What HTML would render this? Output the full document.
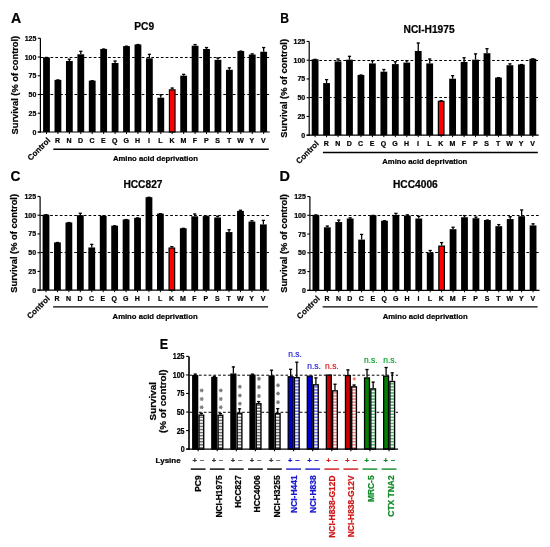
<!DOCTYPE html>
<html><head><meta charset="utf-8"><style>
html,body{margin:0;padding:0;background:#fff;}
svg{display:block;will-change:transform;}
text{font-family:"Liberation Sans", sans-serif;stroke-width:0.22px;} text:not([stroke]){stroke:#000;}
</style></head><body>
<svg width="550" height="547" viewBox="0 0 550 547" font-family='"Liberation Sans", sans-serif'>
<defs><pattern id="hk" patternUnits="userSpaceOnUse" x="0" y="0.3" width="10" height="3.05"><rect width="10" height="3.05" fill="#fff"/><rect y="1.4" width="10" height="1.65" fill="#707070"/></pattern><pattern id="hb" patternUnits="userSpaceOnUse" x="0" y="0.3" width="10" height="3.05"><rect width="10" height="3.05" fill="#fff"/><rect y="1.4" width="10" height="1.65" fill="#7878f4"/></pattern><pattern id="hr" patternUnits="userSpaceOnUse" x="0" y="0.3" width="10" height="3.05"><rect width="10" height="3.05" fill="#fff"/><rect y="1.4" width="10" height="1.65" fill="#f48888"/></pattern><pattern id="hg" patternUnits="userSpaceOnUse" x="0" y="0.3" width="10" height="3.05"><rect width="10" height="3.05" fill="#fff"/><rect y="1.4" width="10" height="1.65" fill="#58b878"/></pattern></defs>
<rect width="550" height="547" fill="#fff"/>
<text transform="translate(10.9,22.7) scale(0.93,1)" font-size="15.2" font-weight="bold">A</text>
<text x="134.3" y="29.9" font-size="10.2" font-weight="bold">PC9</text>
<text transform="translate(17.8,85.12) rotate(-90)" text-anchor="middle" font-size="9.3" font-weight="bold">Survival (% of control)</text>
<line x1="40.9" x2="269.8" y1="57.5" y2="57.5" stroke="#000" stroke-width="1" stroke-dasharray="2.7,2.1"/>
<line x1="40.9" x2="269.8" y1="94.5" y2="94.5" stroke="#000" stroke-width="1" stroke-dasharray="2.7,2.1"/>
<line x1="46.5" x2="46.5" y1="57.38" y2="57.15" stroke="#000" stroke-width="1.3"/>
<line x1="44.9" x2="48.1" y1="57.45" y2="57.45" stroke="#000" stroke-width="1.3"/>
<rect x="43.1" y="57.38" width="6.8" height="74.62" fill="#000"/>
<line x1="46.5" x2="46.5" y1="132" y2="134" stroke="#000" stroke-width="1"/>
<text transform="translate(50.8,141) rotate(-45)" text-anchor="end" font-size="8" font-weight="bold">Control</text>
<line x1="57.93" x2="57.93" y1="79.88" y2="79.65" stroke="#000" stroke-width="1.3"/>
<line x1="56.33" x2="59.53" y1="79.95" y2="79.95" stroke="#000" stroke-width="1.3"/>
<rect x="54.53" y="79.88" width="6.8" height="52.12" fill="#000"/>
<line x1="57.93" x2="57.93" y1="132" y2="134" stroke="#000" stroke-width="1"/>
<text x="57.63" y="143.1" text-anchor="middle" font-size="7" font-weight="bold">R</text>
<line x1="69.36" x2="69.36" y1="60.97" y2="58.95" stroke="#000" stroke-width="1.3"/>
<line x1="67.76" x2="70.96" y1="59.25" y2="59.25" stroke="#000" stroke-width="1.3"/>
<rect x="65.96" y="60.97" width="6.8" height="71.03" fill="#000"/>
<line x1="69.36" x2="69.36" y1="132" y2="134" stroke="#000" stroke-width="1"/>
<text x="69.06" y="143.1" text-anchor="middle" font-size="7" font-weight="bold">N</text>
<line x1="80.79" x2="80.79" y1="54.3" y2="51" stroke="#000" stroke-width="1.3"/>
<line x1="79.19" x2="82.39" y1="51.3" y2="51.3" stroke="#000" stroke-width="1.3"/>
<rect x="77.39" y="54.3" width="6.8" height="77.7" fill="#000"/>
<line x1="80.79" x2="80.79" y1="132" y2="134" stroke="#000" stroke-width="1"/>
<text x="80.49" y="143.1" text-anchor="middle" font-size="7" font-weight="bold">D</text>
<line x1="92.22" x2="92.22" y1="80.62" y2="80.4" stroke="#000" stroke-width="1.3"/>
<line x1="90.62" x2="93.82" y1="80.7" y2="80.7" stroke="#000" stroke-width="1.3"/>
<rect x="88.82" y="80.62" width="6.8" height="51.38" fill="#000"/>
<line x1="92.22" x2="92.22" y1="132" y2="134" stroke="#000" stroke-width="1"/>
<text x="91.92" y="143.1" text-anchor="middle" font-size="7" font-weight="bold">C</text>
<line x1="103.65" x2="103.65" y1="48.97" y2="48.75" stroke="#000" stroke-width="1.3"/>
<line x1="102.05" x2="105.25" y1="49.05" y2="49.05" stroke="#000" stroke-width="1.3"/>
<rect x="100.25" y="48.97" width="6.8" height="83.03" fill="#000"/>
<line x1="103.65" x2="103.65" y1="132" y2="134" stroke="#000" stroke-width="1"/>
<text x="103.35" y="143.1" text-anchor="middle" font-size="7" font-weight="bold">E</text>
<line x1="115.08" x2="115.08" y1="63" y2="60.75" stroke="#000" stroke-width="1.3"/>
<line x1="113.48" x2="116.68" y1="61.05" y2="61.05" stroke="#000" stroke-width="1.3"/>
<rect x="111.68" y="63" width="6.8" height="69" fill="#000"/>
<line x1="115.08" x2="115.08" y1="132" y2="134" stroke="#000" stroke-width="1"/>
<text x="114.78" y="143.1" text-anchor="middle" font-size="7" font-weight="bold">Q</text>
<line x1="126.51" x2="126.51" y1="46.12" y2="45.9" stroke="#000" stroke-width="1.3"/>
<line x1="124.91" x2="128.11" y1="46.2" y2="46.2" stroke="#000" stroke-width="1.3"/>
<rect x="123.11" y="46.12" width="6.8" height="85.88" fill="#000"/>
<line x1="126.51" x2="126.51" y1="132" y2="134" stroke="#000" stroke-width="1"/>
<text x="126.21" y="143.1" text-anchor="middle" font-size="7" font-weight="bold">G</text>
<line x1="137.94" x2="137.94" y1="44.47" y2="44.25" stroke="#000" stroke-width="1.3"/>
<line x1="136.34" x2="139.54" y1="44.55" y2="44.55" stroke="#000" stroke-width="1.3"/>
<rect x="134.54" y="44.47" width="6.8" height="87.53" fill="#000"/>
<line x1="137.94" x2="137.94" y1="132" y2="134" stroke="#000" stroke-width="1"/>
<text x="137.64" y="143.1" text-anchor="middle" font-size="7" font-weight="bold">H</text>
<line x1="149.37" x2="149.37" y1="58.35" y2="54" stroke="#000" stroke-width="1.3"/>
<line x1="147.77" x2="150.97" y1="54.3" y2="54.3" stroke="#000" stroke-width="1.3"/>
<rect x="145.97" y="58.35" width="6.8" height="73.65" fill="#000"/>
<line x1="149.37" x2="149.37" y1="132" y2="134" stroke="#000" stroke-width="1"/>
<text x="149.07" y="143.1" text-anchor="middle" font-size="7" font-weight="bold">I</text>
<line x1="160.8" x2="160.8" y1="97.72" y2="94.5" stroke="#000" stroke-width="1.3"/>
<line x1="159.2" x2="162.4" y1="94.8" y2="94.8" stroke="#000" stroke-width="1.3"/>
<rect x="157.4" y="97.72" width="6.8" height="34.28" fill="#000"/>
<line x1="160.8" x2="160.8" y1="132" y2="134" stroke="#000" stroke-width="1"/>
<text x="160.5" y="143.1" text-anchor="middle" font-size="7" font-weight="bold">L</text>
<line x1="172.23" x2="172.23" y1="89.25" y2="87.75" stroke="#000" stroke-width="1.3"/>
<line x1="170.63" x2="173.83" y1="88.05" y2="88.05" stroke="#000" stroke-width="1.3"/>
<rect x="169.43" y="89.85" width="5.6" height="42.15" fill="#ff0000" stroke="#000" stroke-width="1.2"/>
<line x1="172.23" x2="172.23" y1="132" y2="134" stroke="#000" stroke-width="1"/>
<text x="171.93" y="143.1" text-anchor="middle" font-size="7" font-weight="bold">K</text>
<line x1="183.66" x2="183.66" y1="75.68" y2="74.03" stroke="#000" stroke-width="1.3"/>
<line x1="182.06" x2="185.26" y1="74.33" y2="74.33" stroke="#000" stroke-width="1.3"/>
<rect x="180.26" y="75.68" width="6.8" height="56.32" fill="#000"/>
<line x1="183.66" x2="183.66" y1="132" y2="134" stroke="#000" stroke-width="1"/>
<text x="183.36" y="143.1" text-anchor="middle" font-size="7" font-weight="bold">M</text>
<line x1="195.09" x2="195.09" y1="45.75" y2="44.25" stroke="#000" stroke-width="1.3"/>
<line x1="193.49" x2="196.69" y1="44.55" y2="44.55" stroke="#000" stroke-width="1.3"/>
<rect x="191.69" y="45.75" width="6.8" height="86.25" fill="#000"/>
<line x1="195.09" x2="195.09" y1="132" y2="134" stroke="#000" stroke-width="1"/>
<text x="194.79" y="143.1" text-anchor="middle" font-size="7" font-weight="bold">F</text>
<line x1="206.52" x2="206.52" y1="48.97" y2="47.25" stroke="#000" stroke-width="1.3"/>
<line x1="204.92" x2="208.12" y1="47.55" y2="47.55" stroke="#000" stroke-width="1.3"/>
<rect x="203.12" y="48.97" width="6.8" height="83.03" fill="#000"/>
<line x1="206.52" x2="206.52" y1="132" y2="134" stroke="#000" stroke-width="1"/>
<text x="206.22" y="143.1" text-anchor="middle" font-size="7" font-weight="bold">P</text>
<line x1="217.95" x2="217.95" y1="59.85" y2="57.75" stroke="#000" stroke-width="1.3"/>
<line x1="216.35" x2="219.55" y1="58.05" y2="58.05" stroke="#000" stroke-width="1.3"/>
<rect x="214.55" y="59.85" width="6.8" height="72.15" fill="#000"/>
<line x1="217.95" x2="217.95" y1="132" y2="134" stroke="#000" stroke-width="1"/>
<text x="217.65" y="143.1" text-anchor="middle" font-size="7" font-weight="bold">S</text>
<line x1="229.38" x2="229.38" y1="69.75" y2="67.5" stroke="#000" stroke-width="1.3"/>
<line x1="227.78" x2="230.98" y1="67.8" y2="67.8" stroke="#000" stroke-width="1.3"/>
<rect x="225.98" y="69.75" width="6.8" height="62.25" fill="#000"/>
<line x1="229.38" x2="229.38" y1="132" y2="134" stroke="#000" stroke-width="1"/>
<text x="229.08" y="143.1" text-anchor="middle" font-size="7" font-weight="bold">T</text>
<line x1="240.81" x2="240.81" y1="51.07" y2="50.85" stroke="#000" stroke-width="1.3"/>
<line x1="239.21" x2="242.41" y1="51.15" y2="51.15" stroke="#000" stroke-width="1.3"/>
<rect x="237.41" y="51.07" width="6.8" height="80.93" fill="#000"/>
<line x1="240.81" x2="240.81" y1="132" y2="134" stroke="#000" stroke-width="1"/>
<text x="240.51" y="143.1" text-anchor="middle" font-size="7" font-weight="bold">W</text>
<line x1="252.24" x2="252.24" y1="54.53" y2="53.62" stroke="#000" stroke-width="1.3"/>
<line x1="250.64" x2="253.84" y1="53.92" y2="53.92" stroke="#000" stroke-width="1.3"/>
<rect x="248.84" y="54.53" width="6.8" height="77.47" fill="#000"/>
<line x1="252.24" x2="252.24" y1="132" y2="134" stroke="#000" stroke-width="1"/>
<text x="251.94" y="143.1" text-anchor="middle" font-size="7" font-weight="bold">Y</text>
<line x1="263.67" x2="263.67" y1="51.75" y2="47.25" stroke="#000" stroke-width="1.3"/>
<line x1="262.07" x2="265.27" y1="47.55" y2="47.55" stroke="#000" stroke-width="1.3"/>
<rect x="260.27" y="51.75" width="6.8" height="80.25" fill="#000"/>
<line x1="263.67" x2="263.67" y1="132" y2="134" stroke="#000" stroke-width="1"/>
<text x="263.37" y="143.1" text-anchor="middle" font-size="7" font-weight="bold">V</text>
<line x1="40.4" x2="40.4" y1="38.25" y2="132.6" stroke="#000" stroke-width="1.2"/>
<line x1="37.8" x2="269.8" y1="132" y2="132" stroke="#000" stroke-width="1.2"/>
<line x1="37.8" x2="40.4" y1="132" y2="132" stroke="#000" stroke-width="1.1"/>
<text x="36.4" y="134.5" text-anchor="end" font-size="7" font-weight="bold">0</text>
<line x1="37.8" x2="40.4" y1="113.25" y2="113.25" stroke="#000" stroke-width="1.1"/>
<text x="36.4" y="115.75" text-anchor="end" font-size="7" font-weight="bold">25</text>
<line x1="37.8" x2="40.4" y1="94.5" y2="94.5" stroke="#000" stroke-width="1.1"/>
<text x="36.4" y="97" text-anchor="end" font-size="7" font-weight="bold">50</text>
<line x1="37.8" x2="40.4" y1="75.75" y2="75.75" stroke="#000" stroke-width="1.1"/>
<text x="36.4" y="78.25" text-anchor="end" font-size="7" font-weight="bold">75</text>
<line x1="37.8" x2="40.4" y1="57" y2="57" stroke="#000" stroke-width="1.1"/>
<text x="36.4" y="59.5" text-anchor="end" font-size="7" font-weight="bold">100</text>
<line x1="37.8" x2="40.4" y1="38.25" y2="38.25" stroke="#000" stroke-width="1.1"/>
<text x="36.4" y="40.75" text-anchor="end" font-size="7" font-weight="bold">125</text>
<line x1="53.3" x2="268.8" y1="149.2" y2="149.2" stroke="#000" stroke-width="1.4"/>
<text x="112.9" y="160.8" font-size="7.7" font-weight="bold">Amino acid deprivation</text>
<text transform="translate(280.2,22.7) scale(0.8,1)" font-size="15.2" font-weight="bold">B</text>
<text x="403.6" y="32.8" font-size="10.2" font-weight="bold">NCI-H1975</text>
<text transform="translate(286.8,88.32) rotate(-90)" text-anchor="middle" font-size="9.3" font-weight="bold">Survival (% of control)</text>
<line x1="309.7" x2="538.7" y1="60.5" y2="60.5" stroke="#000" stroke-width="1" stroke-dasharray="2.7,2.1"/>
<line x1="309.7" x2="538.7" y1="97.5" y2="97.5" stroke="#000" stroke-width="1" stroke-dasharray="2.7,2.1"/>
<line x1="315.1" x2="315.1" y1="59.3" y2="59.07" stroke="#000" stroke-width="1.3"/>
<line x1="313.5" x2="316.7" y1="59.37" y2="59.37" stroke="#000" stroke-width="1.3"/>
<rect x="311.7" y="59.3" width="6.8" height="75.9" fill="#000"/>
<line x1="315.1" x2="315.1" y1="135.2" y2="137.2" stroke="#000" stroke-width="1"/>
<text transform="translate(319.4,144.2) rotate(-45)" text-anchor="end" font-size="8" font-weight="bold">Control</text>
<line x1="326.56" x2="326.56" y1="83.07" y2="79.32" stroke="#000" stroke-width="1.3"/>
<line x1="324.96" x2="328.16" y1="79.62" y2="79.62" stroke="#000" stroke-width="1.3"/>
<rect x="323.16" y="83.07" width="6.8" height="52.12" fill="#000"/>
<line x1="326.56" x2="326.56" y1="135.2" y2="137.2" stroke="#000" stroke-width="1"/>
<text x="326.26" y="146.3" text-anchor="middle" font-size="7" font-weight="bold">R</text>
<line x1="338.02" x2="338.02" y1="61.47" y2="58.7" stroke="#000" stroke-width="1.3"/>
<line x1="336.42" x2="339.62" y1="59" y2="59" stroke="#000" stroke-width="1.3"/>
<rect x="334.62" y="61.47" width="6.8" height="73.72" fill="#000"/>
<line x1="338.02" x2="338.02" y1="135.2" y2="137.2" stroke="#000" stroke-width="1"/>
<text x="337.72" y="146.3" text-anchor="middle" font-size="7" font-weight="bold">N</text>
<line x1="349.48" x2="349.48" y1="59.67" y2="56" stroke="#000" stroke-width="1.3"/>
<line x1="347.88" x2="351.08" y1="56.3" y2="56.3" stroke="#000" stroke-width="1.3"/>
<rect x="346.08" y="59.67" width="6.8" height="75.53" fill="#000"/>
<line x1="349.48" x2="349.48" y1="135.2" y2="137.2" stroke="#000" stroke-width="1"/>
<text x="349.18" y="146.3" text-anchor="middle" font-size="7" font-weight="bold">D</text>
<line x1="360.94" x2="360.94" y1="74.97" y2="74.75" stroke="#000" stroke-width="1.3"/>
<line x1="359.34" x2="362.54" y1="75.05" y2="75.05" stroke="#000" stroke-width="1.3"/>
<rect x="357.54" y="74.97" width="6.8" height="60.22" fill="#000"/>
<line x1="360.94" x2="360.94" y1="135.2" y2="137.2" stroke="#000" stroke-width="1"/>
<text x="360.64" y="146.3" text-anchor="middle" font-size="7" font-weight="bold">C</text>
<line x1="372.4" x2="372.4" y1="63.42" y2="60.42" stroke="#000" stroke-width="1.3"/>
<line x1="370.8" x2="374" y1="60.72" y2="60.72" stroke="#000" stroke-width="1.3"/>
<rect x="369" y="63.42" width="6.8" height="71.78" fill="#000"/>
<line x1="372.4" x2="372.4" y1="135.2" y2="137.2" stroke="#000" stroke-width="1"/>
<text x="372.1" y="146.3" text-anchor="middle" font-size="7" font-weight="bold">E</text>
<line x1="383.86" x2="383.86" y1="71.67" y2="69.2" stroke="#000" stroke-width="1.3"/>
<line x1="382.26" x2="385.46" y1="69.5" y2="69.5" stroke="#000" stroke-width="1.3"/>
<rect x="380.46" y="71.67" width="6.8" height="63.53" fill="#000"/>
<line x1="383.86" x2="383.86" y1="135.2" y2="137.2" stroke="#000" stroke-width="1"/>
<text x="383.56" y="146.3" text-anchor="middle" font-size="7" font-weight="bold">Q</text>
<line x1="395.32" x2="395.32" y1="64.1" y2="61.47" stroke="#000" stroke-width="1.3"/>
<line x1="393.72" x2="396.92" y1="61.77" y2="61.77" stroke="#000" stroke-width="1.3"/>
<rect x="391.92" y="64.1" width="6.8" height="71.1" fill="#000"/>
<line x1="395.32" x2="395.32" y1="135.2" y2="137.2" stroke="#000" stroke-width="1"/>
<text x="395.02" y="146.3" text-anchor="middle" font-size="7" font-weight="bold">G</text>
<line x1="406.78" x2="406.78" y1="62.6" y2="60.42" stroke="#000" stroke-width="1.3"/>
<line x1="405.18" x2="408.38" y1="60.72" y2="60.72" stroke="#000" stroke-width="1.3"/>
<rect x="403.38" y="62.6" width="6.8" height="72.6" fill="#000"/>
<line x1="406.78" x2="406.78" y1="135.2" y2="137.2" stroke="#000" stroke-width="1"/>
<text x="406.48" y="146.3" text-anchor="middle" font-size="7" font-weight="bold">H</text>
<line x1="418.24" x2="418.24" y1="50.97" y2="42.72" stroke="#000" stroke-width="1.3"/>
<line x1="416.64" x2="419.84" y1="43.02" y2="43.02" stroke="#000" stroke-width="1.3"/>
<rect x="414.84" y="50.97" width="6.8" height="84.22" fill="#000"/>
<line x1="418.24" x2="418.24" y1="135.2" y2="137.2" stroke="#000" stroke-width="1"/>
<text x="417.94" y="146.3" text-anchor="middle" font-size="7" font-weight="bold">I</text>
<line x1="429.7" x2="429.7" y1="63.42" y2="58.7" stroke="#000" stroke-width="1.3"/>
<line x1="428.1" x2="431.3" y1="59" y2="59" stroke="#000" stroke-width="1.3"/>
<rect x="426.3" y="63.42" width="6.8" height="71.78" fill="#000"/>
<line x1="429.7" x2="429.7" y1="135.2" y2="137.2" stroke="#000" stroke-width="1"/>
<text x="429.4" y="146.3" text-anchor="middle" font-size="7" font-weight="bold">L</text>
<line x1="441.16" x2="441.16" y1="100.7" y2="100.47" stroke="#000" stroke-width="1.3"/>
<line x1="439.56" x2="442.76" y1="100.77" y2="100.77" stroke="#000" stroke-width="1.3"/>
<rect x="438.36" y="101.3" width="5.6" height="33.9" fill="#ff0000" stroke="#000" stroke-width="1.2"/>
<line x1="441.16" x2="441.16" y1="135.2" y2="137.2" stroke="#000" stroke-width="1"/>
<text x="440.86" y="146.3" text-anchor="middle" font-size="7" font-weight="bold">K</text>
<line x1="452.62" x2="452.62" y1="78.72" y2="75.42" stroke="#000" stroke-width="1.3"/>
<line x1="451.02" x2="454.22" y1="75.72" y2="75.72" stroke="#000" stroke-width="1.3"/>
<rect x="449.22" y="78.72" width="6.8" height="56.47" fill="#000"/>
<line x1="452.62" x2="452.62" y1="135.2" y2="137.2" stroke="#000" stroke-width="1"/>
<text x="452.32" y="146.3" text-anchor="middle" font-size="7" font-weight="bold">M</text>
<line x1="464.08" x2="464.08" y1="61.92" y2="57.5" stroke="#000" stroke-width="1.3"/>
<line x1="462.48" x2="465.68" y1="57.8" y2="57.8" stroke="#000" stroke-width="1.3"/>
<rect x="460.68" y="61.92" width="6.8" height="73.28" fill="#000"/>
<line x1="464.08" x2="464.08" y1="135.2" y2="137.2" stroke="#000" stroke-width="1"/>
<text x="463.78" y="146.3" text-anchor="middle" font-size="7" font-weight="bold">F</text>
<line x1="475.54" x2="475.54" y1="59.67" y2="53.6" stroke="#000" stroke-width="1.3"/>
<line x1="473.94" x2="477.14" y1="53.9" y2="53.9" stroke="#000" stroke-width="1.3"/>
<rect x="472.14" y="59.67" width="6.8" height="75.53" fill="#000"/>
<line x1="475.54" x2="475.54" y1="135.2" y2="137.2" stroke="#000" stroke-width="1"/>
<text x="475.24" y="146.3" text-anchor="middle" font-size="7" font-weight="bold">P</text>
<line x1="487" x2="487" y1="53.22" y2="48.42" stroke="#000" stroke-width="1.3"/>
<line x1="485.4" x2="488.6" y1="48.72" y2="48.72" stroke="#000" stroke-width="1.3"/>
<rect x="483.6" y="53.22" width="6.8" height="81.97" fill="#000"/>
<line x1="487" x2="487" y1="135.2" y2="137.2" stroke="#000" stroke-width="1"/>
<text x="486.7" y="146.3" text-anchor="middle" font-size="7" font-weight="bold">S</text>
<line x1="498.46" x2="498.46" y1="77.6" y2="77.38" stroke="#000" stroke-width="1.3"/>
<line x1="496.86" x2="500.06" y1="77.67" y2="77.67" stroke="#000" stroke-width="1.3"/>
<rect x="495.06" y="77.6" width="6.8" height="57.6" fill="#000"/>
<line x1="498.46" x2="498.46" y1="135.2" y2="137.2" stroke="#000" stroke-width="1"/>
<text x="498.16" y="146.3" text-anchor="middle" font-size="7" font-weight="bold">T</text>
<line x1="509.92" x2="509.92" y1="65.22" y2="63.57" stroke="#000" stroke-width="1.3"/>
<line x1="508.32" x2="511.52" y1="63.87" y2="63.87" stroke="#000" stroke-width="1.3"/>
<rect x="506.52" y="65.22" width="6.8" height="69.97" fill="#000"/>
<line x1="509.92" x2="509.92" y1="135.2" y2="137.2" stroke="#000" stroke-width="1"/>
<text x="509.62" y="146.3" text-anchor="middle" font-size="7" font-weight="bold">W</text>
<line x1="521.38" x2="521.38" y1="64.47" y2="64.25" stroke="#000" stroke-width="1.3"/>
<line x1="519.78" x2="522.98" y1="64.55" y2="64.55" stroke="#000" stroke-width="1.3"/>
<rect x="517.98" y="64.47" width="6.8" height="70.72" fill="#000"/>
<line x1="521.38" x2="521.38" y1="135.2" y2="137.2" stroke="#000" stroke-width="1"/>
<text x="521.08" y="146.3" text-anchor="middle" font-size="7" font-weight="bold">Y</text>
<line x1="532.84" x2="532.84" y1="58.77" y2="58.55" stroke="#000" stroke-width="1.3"/>
<line x1="531.24" x2="534.44" y1="58.85" y2="58.85" stroke="#000" stroke-width="1.3"/>
<rect x="529.44" y="58.77" width="6.8" height="76.43" fill="#000"/>
<line x1="532.84" x2="532.84" y1="135.2" y2="137.2" stroke="#000" stroke-width="1"/>
<text x="532.54" y="146.3" text-anchor="middle" font-size="7" font-weight="bold">V</text>
<line x1="309.2" x2="309.2" y1="41.45" y2="135.8" stroke="#000" stroke-width="1.2"/>
<line x1="306.6" x2="538.7" y1="135.2" y2="135.2" stroke="#000" stroke-width="1.2"/>
<line x1="306.6" x2="309.2" y1="135.2" y2="135.2" stroke="#000" stroke-width="1.1"/>
<text x="305.2" y="137.7" text-anchor="end" font-size="7" font-weight="bold">0</text>
<line x1="306.6" x2="309.2" y1="116.45" y2="116.45" stroke="#000" stroke-width="1.1"/>
<text x="305.2" y="118.95" text-anchor="end" font-size="7" font-weight="bold">25</text>
<line x1="306.6" x2="309.2" y1="97.7" y2="97.7" stroke="#000" stroke-width="1.1"/>
<text x="305.2" y="100.2" text-anchor="end" font-size="7" font-weight="bold">50</text>
<line x1="306.6" x2="309.2" y1="78.95" y2="78.95" stroke="#000" stroke-width="1.1"/>
<text x="305.2" y="81.45" text-anchor="end" font-size="7" font-weight="bold">75</text>
<line x1="306.6" x2="309.2" y1="60.2" y2="60.2" stroke="#000" stroke-width="1.1"/>
<text x="305.2" y="62.7" text-anchor="end" font-size="7" font-weight="bold">100</text>
<line x1="306.6" x2="309.2" y1="41.45" y2="41.45" stroke="#000" stroke-width="1.1"/>
<text x="305.2" y="43.95" text-anchor="end" font-size="7" font-weight="bold">125</text>
<line x1="322.9" x2="537.8" y1="152.5" y2="152.5" stroke="#000" stroke-width="1.4"/>
<text x="382.3" y="163.9" font-size="7.7" font-weight="bold">Amino acid deprivation</text>
<text transform="translate(10.6,180.6) scale(0.9,1)" font-size="15.2" font-weight="bold">C</text>
<text x="123.4" y="187.5" font-size="10.2" font-weight="bold">HCC827</text>
<text transform="translate(17.2,243.32) rotate(-90)" text-anchor="middle" font-size="9.3" font-weight="bold">Survival (% of control)</text>
<line x1="40.6" x2="269.1" y1="215.5" y2="215.5" stroke="#000" stroke-width="1" stroke-dasharray="2.7,2.1"/>
<line x1="40.6" x2="269.1" y1="252.5" y2="252.5" stroke="#000" stroke-width="1" stroke-dasharray="2.7,2.1"/>
<line x1="46" x2="46" y1="214.6" y2="214.38" stroke="#000" stroke-width="1.3"/>
<line x1="44.4" x2="47.6" y1="214.68" y2="214.68" stroke="#000" stroke-width="1.3"/>
<rect x="42.6" y="214.6" width="6.8" height="75.6" fill="#000"/>
<line x1="46" x2="46" y1="290.2" y2="292.2" stroke="#000" stroke-width="1"/>
<text transform="translate(50.3,299.2) rotate(-45)" text-anchor="end" font-size="8" font-weight="bold">Control</text>
<line x1="57.44" x2="57.44" y1="242.42" y2="242.2" stroke="#000" stroke-width="1.3"/>
<line x1="55.84" x2="59.04" y1="242.5" y2="242.5" stroke="#000" stroke-width="1.3"/>
<rect x="54.04" y="242.42" width="6.8" height="47.78" fill="#000"/>
<line x1="57.44" x2="57.44" y1="290.2" y2="292.2" stroke="#000" stroke-width="1"/>
<text x="57.14" y="301.3" text-anchor="middle" font-size="7" font-weight="bold">R</text>
<line x1="68.88" x2="68.88" y1="222.47" y2="222.25" stroke="#000" stroke-width="1.3"/>
<line x1="67.28" x2="70.48" y1="222.55" y2="222.55" stroke="#000" stroke-width="1.3"/>
<rect x="65.48" y="222.47" width="6.8" height="67.72" fill="#000"/>
<line x1="68.88" x2="68.88" y1="290.2" y2="292.2" stroke="#000" stroke-width="1"/>
<text x="68.58" y="301.3" text-anchor="middle" font-size="7" font-weight="bold">N</text>
<line x1="80.32" x2="80.32" y1="215.2" y2="212.95" stroke="#000" stroke-width="1.3"/>
<line x1="78.72" x2="81.92" y1="213.25" y2="213.25" stroke="#000" stroke-width="1.3"/>
<rect x="76.92" y="215.2" width="6.8" height="75" fill="#000"/>
<line x1="80.32" x2="80.32" y1="290.2" y2="292.2" stroke="#000" stroke-width="1"/>
<text x="80.02" y="301.3" text-anchor="middle" font-size="7" font-weight="bold">D</text>
<line x1="91.76" x2="91.76" y1="247.45" y2="244.07" stroke="#000" stroke-width="1.3"/>
<line x1="90.16" x2="93.36" y1="244.38" y2="244.38" stroke="#000" stroke-width="1.3"/>
<rect x="88.36" y="247.45" width="6.8" height="42.75" fill="#000"/>
<line x1="91.76" x2="91.76" y1="290.2" y2="292.2" stroke="#000" stroke-width="1"/>
<text x="91.46" y="301.3" text-anchor="middle" font-size="7" font-weight="bold">C</text>
<line x1="103.2" x2="103.2" y1="215.95" y2="215.72" stroke="#000" stroke-width="1.3"/>
<line x1="101.6" x2="104.8" y1="216.03" y2="216.03" stroke="#000" stroke-width="1.3"/>
<rect x="99.8" y="215.95" width="6.8" height="74.25" fill="#000"/>
<line x1="103.2" x2="103.2" y1="290.2" y2="292.2" stroke="#000" stroke-width="1"/>
<text x="102.9" y="301.3" text-anchor="middle" font-size="7" font-weight="bold">E</text>
<line x1="114.64" x2="114.64" y1="225.7" y2="225.47" stroke="#000" stroke-width="1.3"/>
<line x1="113.04" x2="116.24" y1="225.78" y2="225.78" stroke="#000" stroke-width="1.3"/>
<rect x="111.24" y="225.7" width="6.8" height="64.5" fill="#000"/>
<line x1="114.64" x2="114.64" y1="290.2" y2="292.2" stroke="#000" stroke-width="1"/>
<text x="114.34" y="301.3" text-anchor="middle" font-size="7" font-weight="bold">Q</text>
<line x1="126.08" x2="126.08" y1="219.47" y2="219.25" stroke="#000" stroke-width="1.3"/>
<line x1="124.48" x2="127.68" y1="219.55" y2="219.55" stroke="#000" stroke-width="1.3"/>
<rect x="122.68" y="219.47" width="6.8" height="70.72" fill="#000"/>
<line x1="126.08" x2="126.08" y1="290.2" y2="292.2" stroke="#000" stroke-width="1"/>
<text x="125.78" y="301.3" text-anchor="middle" font-size="7" font-weight="bold">G</text>
<line x1="137.52" x2="137.52" y1="217.82" y2="217.6" stroke="#000" stroke-width="1.3"/>
<line x1="135.92" x2="139.12" y1="217.9" y2="217.9" stroke="#000" stroke-width="1.3"/>
<rect x="134.12" y="217.82" width="6.8" height="72.38" fill="#000"/>
<line x1="137.52" x2="137.52" y1="290.2" y2="292.2" stroke="#000" stroke-width="1"/>
<text x="137.22" y="301.3" text-anchor="middle" font-size="7" font-weight="bold">H</text>
<line x1="148.96" x2="148.96" y1="197.2" y2="196.97" stroke="#000" stroke-width="1.3"/>
<line x1="147.36" x2="150.56" y1="197.28" y2="197.28" stroke="#000" stroke-width="1.3"/>
<rect x="145.56" y="197.2" width="6.8" height="93" fill="#000"/>
<line x1="148.96" x2="148.96" y1="290.2" y2="292.2" stroke="#000" stroke-width="1"/>
<text x="148.66" y="301.3" text-anchor="middle" font-size="7" font-weight="bold">I</text>
<line x1="160.4" x2="160.4" y1="213.62" y2="213.4" stroke="#000" stroke-width="1.3"/>
<line x1="158.8" x2="162" y1="213.7" y2="213.7" stroke="#000" stroke-width="1.3"/>
<rect x="157" y="213.62" width="6.8" height="76.57" fill="#000"/>
<line x1="160.4" x2="160.4" y1="290.2" y2="292.2" stroke="#000" stroke-width="1"/>
<text x="160.1" y="301.3" text-anchor="middle" font-size="7" font-weight="bold">L</text>
<line x1="171.84" x2="171.84" y1="247.45" y2="246.32" stroke="#000" stroke-width="1.3"/>
<line x1="170.24" x2="173.44" y1="246.62" y2="246.62" stroke="#000" stroke-width="1.3"/>
<rect x="169.04" y="248.05" width="5.6" height="42.15" fill="#ff0000" stroke="#000" stroke-width="1.2"/>
<line x1="171.84" x2="171.84" y1="290.2" y2="292.2" stroke="#000" stroke-width="1"/>
<text x="171.54" y="301.3" text-anchor="middle" font-size="7" font-weight="bold">K</text>
<line x1="183.28" x2="183.28" y1="228.25" y2="228.02" stroke="#000" stroke-width="1.3"/>
<line x1="181.68" x2="184.88" y1="228.32" y2="228.32" stroke="#000" stroke-width="1.3"/>
<rect x="179.88" y="228.25" width="6.8" height="61.95" fill="#000"/>
<line x1="183.28" x2="183.28" y1="290.2" y2="292.2" stroke="#000" stroke-width="1"/>
<text x="182.98" y="301.3" text-anchor="middle" font-size="7" font-weight="bold">M</text>
<line x1="194.72" x2="194.72" y1="216.32" y2="213.7" stroke="#000" stroke-width="1.3"/>
<line x1="193.12" x2="196.32" y1="214" y2="214" stroke="#000" stroke-width="1.3"/>
<rect x="191.32" y="216.32" width="6.8" height="73.88" fill="#000"/>
<line x1="194.72" x2="194.72" y1="290.2" y2="292.2" stroke="#000" stroke-width="1"/>
<text x="194.42" y="301.3" text-anchor="middle" font-size="7" font-weight="bold">F</text>
<line x1="206.16" x2="206.16" y1="216.1" y2="215.88" stroke="#000" stroke-width="1.3"/>
<line x1="204.56" x2="207.76" y1="216.18" y2="216.18" stroke="#000" stroke-width="1.3"/>
<rect x="202.76" y="216.1" width="6.8" height="74.1" fill="#000"/>
<line x1="206.16" x2="206.16" y1="290.2" y2="292.2" stroke="#000" stroke-width="1"/>
<text x="205.86" y="301.3" text-anchor="middle" font-size="7" font-weight="bold">P</text>
<line x1="217.6" x2="217.6" y1="217.45" y2="215.95" stroke="#000" stroke-width="1.3"/>
<line x1="216" x2="219.2" y1="216.25" y2="216.25" stroke="#000" stroke-width="1.3"/>
<rect x="214.2" y="217.45" width="6.8" height="72.75" fill="#000"/>
<line x1="217.6" x2="217.6" y1="290.2" y2="292.2" stroke="#000" stroke-width="1"/>
<text x="217.3" y="301.3" text-anchor="middle" font-size="7" font-weight="bold">S</text>
<line x1="229.04" x2="229.04" y1="232.07" y2="229.45" stroke="#000" stroke-width="1.3"/>
<line x1="227.44" x2="230.64" y1="229.75" y2="229.75" stroke="#000" stroke-width="1.3"/>
<rect x="225.64" y="232.07" width="6.8" height="58.12" fill="#000"/>
<line x1="229.04" x2="229.04" y1="290.2" y2="292.2" stroke="#000" stroke-width="1"/>
<text x="228.74" y="301.3" text-anchor="middle" font-size="7" font-weight="bold">T</text>
<line x1="240.48" x2="240.48" y1="210.92" y2="209.95" stroke="#000" stroke-width="1.3"/>
<line x1="238.88" x2="242.08" y1="210.25" y2="210.25" stroke="#000" stroke-width="1.3"/>
<rect x="237.08" y="210.92" width="6.8" height="79.28" fill="#000"/>
<line x1="240.48" x2="240.48" y1="290.2" y2="292.2" stroke="#000" stroke-width="1"/>
<text x="240.18" y="301.3" text-anchor="middle" font-size="7" font-weight="bold">W</text>
<line x1="251.92" x2="251.92" y1="221.57" y2="220.45" stroke="#000" stroke-width="1.3"/>
<line x1="250.32" x2="253.52" y1="220.75" y2="220.75" stroke="#000" stroke-width="1.3"/>
<rect x="248.52" y="221.57" width="6.8" height="68.62" fill="#000"/>
<line x1="251.92" x2="251.92" y1="290.2" y2="292.2" stroke="#000" stroke-width="1"/>
<text x="251.62" y="301.3" text-anchor="middle" font-size="7" font-weight="bold">Y</text>
<line x1="263.36" x2="263.36" y1="224.42" y2="220.07" stroke="#000" stroke-width="1.3"/>
<line x1="261.76" x2="264.96" y1="220.38" y2="220.38" stroke="#000" stroke-width="1.3"/>
<rect x="259.96" y="224.42" width="6.8" height="65.78" fill="#000"/>
<line x1="263.36" x2="263.36" y1="290.2" y2="292.2" stroke="#000" stroke-width="1"/>
<text x="263.06" y="301.3" text-anchor="middle" font-size="7" font-weight="bold">V</text>
<line x1="40.1" x2="40.1" y1="196.45" y2="290.8" stroke="#000" stroke-width="1.2"/>
<line x1="37.5" x2="269.1" y1="290.2" y2="290.2" stroke="#000" stroke-width="1.2"/>
<line x1="37.5" x2="40.1" y1="290.2" y2="290.2" stroke="#000" stroke-width="1.1"/>
<text x="36.1" y="292.7" text-anchor="end" font-size="7" font-weight="bold">0</text>
<line x1="37.5" x2="40.1" y1="271.45" y2="271.45" stroke="#000" stroke-width="1.1"/>
<text x="36.1" y="273.95" text-anchor="end" font-size="7" font-weight="bold">25</text>
<line x1="37.5" x2="40.1" y1="252.7" y2="252.7" stroke="#000" stroke-width="1.1"/>
<text x="36.1" y="255.2" text-anchor="end" font-size="7" font-weight="bold">50</text>
<line x1="37.5" x2="40.1" y1="233.95" y2="233.95" stroke="#000" stroke-width="1.1"/>
<text x="36.1" y="236.45" text-anchor="end" font-size="7" font-weight="bold">75</text>
<line x1="37.5" x2="40.1" y1="215.2" y2="215.2" stroke="#000" stroke-width="1.1"/>
<text x="36.1" y="217.7" text-anchor="end" font-size="7" font-weight="bold">100</text>
<line x1="37.5" x2="40.1" y1="196.45" y2="196.45" stroke="#000" stroke-width="1.1"/>
<text x="36.1" y="198.95" text-anchor="end" font-size="7" font-weight="bold">125</text>
<line x1="53.1" x2="268.1" y1="306.9" y2="306.9" stroke="#000" stroke-width="1.4"/>
<text x="112.6" y="318.6" font-size="7.7" font-weight="bold">Amino acid deprivation</text>
<text transform="translate(279.6,180.7) scale(0.95,1)" font-size="15.2" font-weight="bold">D</text>
<text x="393" y="188.4" font-size="10.2" font-weight="bold">HCC4006</text>
<text transform="translate(286.8,243.43) rotate(-90)" text-anchor="middle" font-size="9.3" font-weight="bold">Survival (% of control)</text>
<line x1="310.4" x2="539.5" y1="215.5" y2="215.5" stroke="#000" stroke-width="1" stroke-dasharray="2.7,2.1"/>
<line x1="310.4" x2="539.5" y1="252.5" y2="252.5" stroke="#000" stroke-width="1" stroke-dasharray="2.7,2.1"/>
<line x1="315.9" x2="315.9" y1="214.85" y2="214.62" stroke="#000" stroke-width="1.3"/>
<line x1="314.3" x2="317.5" y1="214.93" y2="214.93" stroke="#000" stroke-width="1.3"/>
<rect x="312.5" y="214.85" width="6.8" height="75.45" fill="#000"/>
<line x1="315.9" x2="315.9" y1="290.3" y2="292.3" stroke="#000" stroke-width="1"/>
<text transform="translate(320.2,299.3) rotate(-45)" text-anchor="end" font-size="8" font-weight="bold">Control</text>
<line x1="327.33" x2="327.33" y1="227.3" y2="225.8" stroke="#000" stroke-width="1.3"/>
<line x1="325.73" x2="328.93" y1="226.1" y2="226.1" stroke="#000" stroke-width="1.3"/>
<rect x="323.93" y="227.3" width="6.8" height="63" fill="#000"/>
<line x1="327.33" x2="327.33" y1="290.3" y2="292.3" stroke="#000" stroke-width="1"/>
<text x="327.03" y="301.4" text-anchor="middle" font-size="7" font-weight="bold">R</text>
<line x1="338.76" x2="338.76" y1="222.05" y2="219.8" stroke="#000" stroke-width="1.3"/>
<line x1="337.16" x2="340.36" y1="220.1" y2="220.1" stroke="#000" stroke-width="1.3"/>
<rect x="335.36" y="222.05" width="6.8" height="68.25" fill="#000"/>
<line x1="338.76" x2="338.76" y1="290.3" y2="292.3" stroke="#000" stroke-width="1"/>
<text x="338.46" y="301.4" text-anchor="middle" font-size="7" font-weight="bold">N</text>
<line x1="350.19" x2="350.19" y1="218.53" y2="217.55" stroke="#000" stroke-width="1.3"/>
<line x1="348.59" x2="351.79" y1="217.85" y2="217.85" stroke="#000" stroke-width="1.3"/>
<rect x="346.79" y="218.53" width="6.8" height="71.78" fill="#000"/>
<line x1="350.19" x2="350.19" y1="290.3" y2="292.3" stroke="#000" stroke-width="1"/>
<text x="349.89" y="301.4" text-anchor="middle" font-size="7" font-weight="bold">D</text>
<line x1="361.62" x2="361.62" y1="239.6" y2="234.12" stroke="#000" stroke-width="1.3"/>
<line x1="360.02" x2="363.22" y1="234.43" y2="234.43" stroke="#000" stroke-width="1.3"/>
<rect x="358.22" y="239.6" width="6.8" height="50.7" fill="#000"/>
<line x1="361.62" x2="361.62" y1="290.3" y2="292.3" stroke="#000" stroke-width="1"/>
<text x="361.32" y="301.4" text-anchor="middle" font-size="7" font-weight="bold">C</text>
<line x1="373.05" x2="373.05" y1="215.3" y2="215.08" stroke="#000" stroke-width="1.3"/>
<line x1="371.45" x2="374.65" y1="215.38" y2="215.38" stroke="#000" stroke-width="1.3"/>
<rect x="369.65" y="215.3" width="6.8" height="75" fill="#000"/>
<line x1="373.05" x2="373.05" y1="290.3" y2="292.3" stroke="#000" stroke-width="1"/>
<text x="372.75" y="301.4" text-anchor="middle" font-size="7" font-weight="bold">E</text>
<line x1="384.48" x2="384.48" y1="220.7" y2="220.48" stroke="#000" stroke-width="1.3"/>
<line x1="382.88" x2="386.08" y1="220.78" y2="220.78" stroke="#000" stroke-width="1.3"/>
<rect x="381.08" y="220.7" width="6.8" height="69.6" fill="#000"/>
<line x1="384.48" x2="384.48" y1="290.3" y2="292.3" stroke="#000" stroke-width="1"/>
<text x="384.18" y="301.4" text-anchor="middle" font-size="7" font-weight="bold">Q</text>
<line x1="395.91" x2="395.91" y1="214.85" y2="213.05" stroke="#000" stroke-width="1.3"/>
<line x1="394.31" x2="397.51" y1="213.35" y2="213.35" stroke="#000" stroke-width="1.3"/>
<rect x="392.51" y="214.85" width="6.8" height="75.45" fill="#000"/>
<line x1="395.91" x2="395.91" y1="290.3" y2="292.3" stroke="#000" stroke-width="1"/>
<text x="395.61" y="301.4" text-anchor="middle" font-size="7" font-weight="bold">G</text>
<line x1="407.34" x2="407.34" y1="215.53" y2="214.55" stroke="#000" stroke-width="1.3"/>
<line x1="405.74" x2="408.94" y1="214.85" y2="214.85" stroke="#000" stroke-width="1.3"/>
<rect x="403.94" y="215.53" width="6.8" height="74.78" fill="#000"/>
<line x1="407.34" x2="407.34" y1="290.3" y2="292.3" stroke="#000" stroke-width="1"/>
<text x="407.04" y="301.4" text-anchor="middle" font-size="7" font-weight="bold">H</text>
<line x1="418.77" x2="418.77" y1="218.53" y2="216.05" stroke="#000" stroke-width="1.3"/>
<line x1="417.17" x2="420.37" y1="216.35" y2="216.35" stroke="#000" stroke-width="1.3"/>
<rect x="415.37" y="218.53" width="6.8" height="71.78" fill="#000"/>
<line x1="418.77" x2="418.77" y1="290.3" y2="292.3" stroke="#000" stroke-width="1"/>
<text x="418.47" y="301.4" text-anchor="middle" font-size="7" font-weight="bold">I</text>
<line x1="430.2" x2="430.2" y1="252.58" y2="250.18" stroke="#000" stroke-width="1.3"/>
<line x1="428.6" x2="431.8" y1="250.48" y2="250.48" stroke="#000" stroke-width="1.3"/>
<rect x="426.8" y="252.58" width="6.8" height="37.72" fill="#000"/>
<line x1="430.2" x2="430.2" y1="290.3" y2="292.3" stroke="#000" stroke-width="1"/>
<text x="429.9" y="301.4" text-anchor="middle" font-size="7" font-weight="bold">L</text>
<line x1="441.63" x2="441.63" y1="245.53" y2="242.3" stroke="#000" stroke-width="1.3"/>
<line x1="440.03" x2="443.23" y1="242.6" y2="242.6" stroke="#000" stroke-width="1.3"/>
<rect x="438.83" y="246.12" width="5.6" height="44.18" fill="#ff0000" stroke="#000" stroke-width="1.2"/>
<line x1="441.63" x2="441.63" y1="290.3" y2="292.3" stroke="#000" stroke-width="1"/>
<text x="441.33" y="301.4" text-anchor="middle" font-size="7" font-weight="bold">K</text>
<line x1="453.06" x2="453.06" y1="229.18" y2="226.93" stroke="#000" stroke-width="1.3"/>
<line x1="451.46" x2="454.66" y1="227.23" y2="227.23" stroke="#000" stroke-width="1.3"/>
<rect x="449.66" y="229.18" width="6.8" height="61.12" fill="#000"/>
<line x1="453.06" x2="453.06" y1="290.3" y2="292.3" stroke="#000" stroke-width="1"/>
<text x="452.76" y="301.4" text-anchor="middle" font-size="7" font-weight="bold">M</text>
<line x1="464.49" x2="464.49" y1="217.25" y2="215.3" stroke="#000" stroke-width="1.3"/>
<line x1="462.89" x2="466.09" y1="215.6" y2="215.6" stroke="#000" stroke-width="1.3"/>
<rect x="461.09" y="217.25" width="6.8" height="73.05" fill="#000"/>
<line x1="464.49" x2="464.49" y1="290.3" y2="292.3" stroke="#000" stroke-width="1"/>
<text x="464.19" y="301.4" text-anchor="middle" font-size="7" font-weight="bold">F</text>
<line x1="475.92" x2="475.92" y1="218.23" y2="216.8" stroke="#000" stroke-width="1.3"/>
<line x1="474.32" x2="477.52" y1="217.1" y2="217.1" stroke="#000" stroke-width="1.3"/>
<rect x="472.52" y="218.23" width="6.8" height="72.07" fill="#000"/>
<line x1="475.92" x2="475.92" y1="290.3" y2="292.3" stroke="#000" stroke-width="1"/>
<text x="475.62" y="301.4" text-anchor="middle" font-size="7" font-weight="bold">P</text>
<line x1="487.35" x2="487.35" y1="220.03" y2="219.8" stroke="#000" stroke-width="1.3"/>
<line x1="485.75" x2="488.95" y1="220.1" y2="220.1" stroke="#000" stroke-width="1.3"/>
<rect x="483.95" y="220.03" width="6.8" height="70.28" fill="#000"/>
<line x1="487.35" x2="487.35" y1="290.3" y2="292.3" stroke="#000" stroke-width="1"/>
<text x="487.05" y="301.4" text-anchor="middle" font-size="7" font-weight="bold">S</text>
<line x1="498.78" x2="498.78" y1="226.18" y2="224.3" stroke="#000" stroke-width="1.3"/>
<line x1="497.18" x2="500.38" y1="224.6" y2="224.6" stroke="#000" stroke-width="1.3"/>
<rect x="495.38" y="226.18" width="6.8" height="64.12" fill="#000"/>
<line x1="498.78" x2="498.78" y1="290.3" y2="292.3" stroke="#000" stroke-width="1"/>
<text x="498.48" y="301.4" text-anchor="middle" font-size="7" font-weight="bold">T</text>
<line x1="510.21" x2="510.21" y1="219.05" y2="216.43" stroke="#000" stroke-width="1.3"/>
<line x1="508.61" x2="511.81" y1="216.73" y2="216.73" stroke="#000" stroke-width="1.3"/>
<rect x="506.81" y="219.05" width="6.8" height="71.25" fill="#000"/>
<line x1="510.21" x2="510.21" y1="290.3" y2="292.3" stroke="#000" stroke-width="1"/>
<text x="509.91" y="301.4" text-anchor="middle" font-size="7" font-weight="bold">W</text>
<line x1="521.64" x2="521.64" y1="216.2" y2="209.68" stroke="#000" stroke-width="1.3"/>
<line x1="520.04" x2="523.24" y1="209.98" y2="209.98" stroke="#000" stroke-width="1.3"/>
<rect x="518.24" y="216.2" width="6.8" height="74.1" fill="#000"/>
<line x1="521.64" x2="521.64" y1="290.3" y2="292.3" stroke="#000" stroke-width="1"/>
<text x="521.34" y="301.4" text-anchor="middle" font-size="7" font-weight="bold">Y</text>
<line x1="533.07" x2="533.07" y1="225.43" y2="223.55" stroke="#000" stroke-width="1.3"/>
<line x1="531.47" x2="534.67" y1="223.85" y2="223.85" stroke="#000" stroke-width="1.3"/>
<rect x="529.67" y="225.43" width="6.8" height="64.88" fill="#000"/>
<line x1="533.07" x2="533.07" y1="290.3" y2="292.3" stroke="#000" stroke-width="1"/>
<text x="532.77" y="301.4" text-anchor="middle" font-size="7" font-weight="bold">V</text>
<line x1="309.9" x2="309.9" y1="196.55" y2="290.9" stroke="#000" stroke-width="1.2"/>
<line x1="307.3" x2="539.5" y1="290.3" y2="290.3" stroke="#000" stroke-width="1.2"/>
<line x1="307.3" x2="309.9" y1="290.3" y2="290.3" stroke="#000" stroke-width="1.1"/>
<text x="305.9" y="292.8" text-anchor="end" font-size="7" font-weight="bold">0</text>
<line x1="307.3" x2="309.9" y1="271.55" y2="271.55" stroke="#000" stroke-width="1.1"/>
<text x="305.9" y="274.05" text-anchor="end" font-size="7" font-weight="bold">25</text>
<line x1="307.3" x2="309.9" y1="252.8" y2="252.8" stroke="#000" stroke-width="1.1"/>
<text x="305.9" y="255.3" text-anchor="end" font-size="7" font-weight="bold">50</text>
<line x1="307.3" x2="309.9" y1="234.05" y2="234.05" stroke="#000" stroke-width="1.1"/>
<text x="305.9" y="236.55" text-anchor="end" font-size="7" font-weight="bold">75</text>
<line x1="307.3" x2="309.9" y1="215.3" y2="215.3" stroke="#000" stroke-width="1.1"/>
<text x="305.9" y="217.8" text-anchor="end" font-size="7" font-weight="bold">100</text>
<line x1="307.3" x2="309.9" y1="196.55" y2="196.55" stroke="#000" stroke-width="1.1"/>
<text x="305.9" y="199.05" text-anchor="end" font-size="7" font-weight="bold">125</text>
<line x1="322.6" x2="537.6" y1="306.9" y2="306.9" stroke="#000" stroke-width="1.4"/>
<text x="382.7" y="318.6" font-size="7.7" font-weight="bold">Amino acid deprivation</text>
<text transform="translate(159.8,348.8) scale(0.86,1)" font-size="14.6" font-weight="bold">E</text>
<text transform="translate(155.5,401.2) rotate(-90)" text-anchor="middle" font-size="9.9" font-weight="bold">Survival</text>
<text transform="translate(165.8,401.2) rotate(-90)" text-anchor="middle" font-size="9.9" font-weight="bold">(% of control)</text>
<line x1="189.4" x2="398" y1="375.19" y2="375.19" stroke="#000" stroke-width="1" stroke-dasharray="2.7,2.1"/>
<line x1="189.4" x2="398" y1="412.27" y2="412.27" stroke="#000" stroke-width="1" stroke-dasharray="2.7,2.1"/>
<line x1="195.2" x2="195.2" y1="374.94" y2="373.83" stroke="#000" stroke-width="1.3"/>
<line x1="193.6" x2="196.8" y1="374.13" y2="374.13" stroke="#000" stroke-width="1.3"/>
<line x1="201.35" x2="201.35" y1="414.54" y2="413.06" stroke="#000" stroke-width="1.3"/>
<line x1="199.75" x2="202.95" y1="413.36" y2="413.36" stroke="#000" stroke-width="1.3"/>
<rect x="192.75" y="375.59" width="4.9" height="73.51" fill="#000" stroke="#000" stroke-width="1.3"/>
<rect x="199" y="415.14" width="4.7" height="33.96" fill="url(#hk)" stroke="#000" stroke-width="1.35"/>
<line x1="198.15" x2="198.15" y1="449.1" y2="451.3" stroke="#000" stroke-width="1.1"/>
<text x="194.8" y="462.6" text-anchor="middle" font-size="7.5" font-weight="bold" fill="#333" stroke="#333">+</text>
<text x="201.95" y="462.6" text-anchor="middle" font-size="7.5" font-weight="bold" fill="#666" stroke="#666">−</text>
<line x1="190.75" x2="205.55" y1="469.1" y2="469.1" stroke="#000" stroke-width="1.4"/>
<text transform="translate(201.25,475.4) rotate(-90)" text-anchor="end" font-size="8.45" font-weight="bold" fill="#000" stroke="#000">PC9</text>
<g stroke="#7a7a7a" stroke-width="1.2"><line x1="199.75" x2="203.55" y1="390.4" y2="390.4"/><line x1="200.65" x2="202.65" y1="388.7" y2="392.1"/><line x1="202.65" x2="200.65" y1="388.7" y2="392.1"/></g>
<g stroke="#7a7a7a" stroke-width="1.2"><line x1="199.75" x2="203.55" y1="399" y2="399"/><line x1="200.65" x2="202.65" y1="397.3" y2="400.7"/><line x1="202.65" x2="200.65" y1="397.3" y2="400.7"/></g>
<g stroke="#7a7a7a" stroke-width="1.2"><line x1="199.75" x2="203.55" y1="407.3" y2="407.3"/><line x1="200.65" x2="202.65" y1="405.6" y2="409"/><line x1="202.65" x2="200.65" y1="405.6" y2="409"/></g>
<line x1="214.29" x2="214.29" y1="376.94" y2="376.05" stroke="#000" stroke-width="1.3"/>
<line x1="212.69" x2="215.89" y1="376.35" y2="376.35" stroke="#000" stroke-width="1.3"/>
<line x1="220.44" x2="220.44" y1="414.69" y2="413.21" stroke="#000" stroke-width="1.3"/>
<line x1="218.84" x2="222.04" y1="413.51" y2="413.51" stroke="#000" stroke-width="1.3"/>
<rect x="211.84" y="377.59" width="4.9" height="71.51" fill="#000" stroke="#000" stroke-width="1.3"/>
<rect x="218.09" y="415.29" width="4.7" height="33.81" fill="url(#hk)" stroke="#000" stroke-width="1.35"/>
<line x1="217.24" x2="217.24" y1="449.1" y2="451.3" stroke="#000" stroke-width="1.1"/>
<text x="213.89" y="462.6" text-anchor="middle" font-size="7.5" font-weight="bold" fill="#333" stroke="#333">+</text>
<text x="221.04" y="462.6" text-anchor="middle" font-size="7.5" font-weight="bold" fill="#666" stroke="#666">−</text>
<line x1="209.84" x2="224.64" y1="469.1" y2="469.1" stroke="#000" stroke-width="1.4"/>
<text transform="translate(222.05,475.4) rotate(-90)" text-anchor="end" font-size="8.45" font-weight="bold" fill="#000" stroke="#000">NCI-H1975</text>
<g stroke="#7a7a7a" stroke-width="1.2"><line x1="218.84" x2="222.64" y1="390.4" y2="390.4"/><line x1="219.74" x2="221.74" y1="388.7" y2="392.1"/><line x1="221.74" x2="219.74" y1="388.7" y2="392.1"/></g>
<g stroke="#7a7a7a" stroke-width="1.2"><line x1="218.84" x2="222.64" y1="399" y2="399"/><line x1="219.74" x2="221.74" y1="397.3" y2="400.7"/><line x1="221.74" x2="219.74" y1="397.3" y2="400.7"/></g>
<g stroke="#7a7a7a" stroke-width="1.2"><line x1="218.84" x2="222.64" y1="407.3" y2="407.3"/><line x1="219.74" x2="221.74" y1="405.6" y2="409"/><line x1="221.74" x2="219.74" y1="405.6" y2="409"/></g>
<line x1="233.38" x2="233.38" y1="373.46" y2="366.63" stroke="#000" stroke-width="1.3"/>
<line x1="231.78" x2="234.98" y1="366.93" y2="366.93" stroke="#000" stroke-width="1.3"/>
<line x1="239.53" x2="239.53" y1="412.61" y2="408.53" stroke="#000" stroke-width="1.3"/>
<line x1="237.93" x2="241.13" y1="408.83" y2="408.83" stroke="#000" stroke-width="1.3"/>
<rect x="230.93" y="374.11" width="4.9" height="74.99" fill="#000" stroke="#000" stroke-width="1.3"/>
<rect x="237.18" y="413.21" width="4.7" height="35.89" fill="url(#hk)" stroke="#000" stroke-width="1.35"/>
<line x1="236.33" x2="236.33" y1="449.1" y2="451.3" stroke="#000" stroke-width="1.1"/>
<text x="232.98" y="462.6" text-anchor="middle" font-size="7.5" font-weight="bold" fill="#333" stroke="#333">+</text>
<text x="240.13" y="462.6" text-anchor="middle" font-size="7.5" font-weight="bold" fill="#666" stroke="#666">−</text>
<line x1="228.93" x2="243.73" y1="469.1" y2="469.1" stroke="#000" stroke-width="1.4"/>
<text transform="translate(241.05,475.4) rotate(-90)" text-anchor="end" font-size="8.45" font-weight="bold" fill="#000" stroke="#000">HCC827</text>
<g stroke="#7a7a7a" stroke-width="1.2"><line x1="237.93" x2="241.73" y1="386.8" y2="386.8"/><line x1="238.83" x2="240.83" y1="385.1" y2="388.5"/><line x1="240.83" x2="238.83" y1="385.1" y2="388.5"/></g>
<g stroke="#7a7a7a" stroke-width="1.2"><line x1="237.93" x2="241.73" y1="395.4" y2="395.4"/><line x1="238.83" x2="240.83" y1="393.7" y2="397.1"/><line x1="240.83" x2="238.83" y1="393.7" y2="397.1"/></g>
<g stroke="#7a7a7a" stroke-width="1.2"><line x1="237.93" x2="241.73" y1="403.7" y2="403.7"/><line x1="238.83" x2="240.83" y1="402" y2="405.4"/><line x1="240.83" x2="238.83" y1="402" y2="405.4"/></g>
<line x1="252.47" x2="252.47" y1="374.57" y2="373.83" stroke="#000" stroke-width="1.3"/>
<line x1="250.87" x2="254.07" y1="374.13" y2="374.13" stroke="#000" stroke-width="1.3"/>
<line x1="258.62" x2="258.62" y1="403.12" y2="401.27" stroke="#000" stroke-width="1.3"/>
<line x1="257.02" x2="260.22" y1="401.57" y2="401.57" stroke="#000" stroke-width="1.3"/>
<rect x="250.02" y="375.22" width="4.9" height="73.88" fill="#000" stroke="#000" stroke-width="1.3"/>
<rect x="256.27" y="403.72" width="4.7" height="45.38" fill="url(#hk)" stroke="#000" stroke-width="1.35"/>
<line x1="255.42" x2="255.42" y1="449.1" y2="451.3" stroke="#000" stroke-width="1.1"/>
<text x="252.07" y="462.6" text-anchor="middle" font-size="7.5" font-weight="bold" fill="#333" stroke="#333">+</text>
<text x="259.22" y="462.6" text-anchor="middle" font-size="7.5" font-weight="bold" fill="#666" stroke="#666">−</text>
<line x1="248.02" x2="262.82" y1="469.1" y2="469.1" stroke="#000" stroke-width="1.4"/>
<text transform="translate(260.25,475.4) rotate(-90)" text-anchor="end" font-size="8.45" font-weight="bold" fill="#000" stroke="#000">HCC4006</text>
<g stroke="#7a7a7a" stroke-width="1.2"><line x1="257.02" x2="260.82" y1="378.8" y2="378.8"/><line x1="257.92" x2="259.92" y1="377.1" y2="380.5"/><line x1="259.92" x2="257.92" y1="377.1" y2="380.5"/></g>
<g stroke="#7a7a7a" stroke-width="1.2"><line x1="257.02" x2="260.82" y1="387.1" y2="387.1"/><line x1="257.92" x2="259.92" y1="385.4" y2="388.8"/><line x1="259.92" x2="257.92" y1="385.4" y2="388.8"/></g>
<g stroke="#7a7a7a" stroke-width="1.2"><line x1="257.02" x2="260.82" y1="396" y2="396"/><line x1="257.92" x2="259.92" y1="394.3" y2="397.7"/><line x1="259.92" x2="257.92" y1="394.3" y2="397.7"/></g>
<line x1="271.56" x2="271.56" y1="375.38" y2="369.9" stroke="#000" stroke-width="1.3"/>
<line x1="269.96" x2="273.16" y1="370.2" y2="370.2" stroke="#000" stroke-width="1.3"/>
<line x1="277.71" x2="277.71" y1="412.98" y2="408.31" stroke="#000" stroke-width="1.3"/>
<line x1="276.11" x2="279.31" y1="408.61" y2="408.61" stroke="#000" stroke-width="1.3"/>
<rect x="269.11" y="376.03" width="4.9" height="73.07" fill="#000" stroke="#000" stroke-width="1.3"/>
<rect x="275.36" y="413.58" width="4.7" height="35.52" fill="url(#hk)" stroke="#000" stroke-width="1.35"/>
<line x1="274.51" x2="274.51" y1="449.1" y2="451.3" stroke="#000" stroke-width="1.1"/>
<text x="271.16" y="462.6" text-anchor="middle" font-size="7.5" font-weight="bold" fill="#333" stroke="#333">+</text>
<text x="278.31" y="462.6" text-anchor="middle" font-size="7.5" font-weight="bold" fill="#666" stroke="#666">−</text>
<line x1="267.11" x2="281.91" y1="469.1" y2="469.1" stroke="#000" stroke-width="1.4"/>
<text transform="translate(279.65,475.4) rotate(-90)" text-anchor="end" font-size="8.45" font-weight="bold" fill="#000" stroke="#000">NCI-H3255</text>
<g stroke="#7a7a7a" stroke-width="1.2"><line x1="276.11" x2="279.91" y1="385.3" y2="385.3"/><line x1="277.01" x2="279.01" y1="383.6" y2="387"/><line x1="279.01" x2="277.01" y1="383.6" y2="387"/></g>
<g stroke="#7a7a7a" stroke-width="1.2"><line x1="276.11" x2="279.91" y1="393.6" y2="393.6"/><line x1="277.01" x2="279.01" y1="391.9" y2="395.3"/><line x1="279.01" x2="277.01" y1="391.9" y2="395.3"/></g>
<g stroke="#7a7a7a" stroke-width="1.2"><line x1="276.11" x2="279.91" y1="402.2" y2="402.2"/><line x1="277.01" x2="279.01" y1="400.5" y2="403.9"/><line x1="279.01" x2="277.01" y1="400.5" y2="403.9"/></g>
<line x1="290.65" x2="290.65" y1="376.13" y2="369.01" stroke="#000" stroke-width="1.3"/>
<line x1="289.05" x2="292.25" y1="369.31" y2="369.31" stroke="#000" stroke-width="1.3"/>
<line x1="296.8" x2="296.8" y1="377.02" y2="361.89" stroke="#000" stroke-width="1.3"/>
<line x1="295.2" x2="298.4" y1="362.19" y2="362.19" stroke="#000" stroke-width="1.3"/>
<rect x="288.2" y="376.78" width="4.9" height="72.32" fill="#0000d0" stroke="#000" stroke-width="1.3"/>
<rect x="294.45" y="377.62" width="4.7" height="71.48" fill="url(#hb)" stroke="#000" stroke-width="1.35"/>
<line x1="293.6" x2="293.6" y1="449.1" y2="451.3" stroke="#000" stroke-width="1.1"/>
<text x="290.25" y="462.6" text-anchor="middle" font-size="7.5" font-weight="bold" fill="#1818d0" stroke="#1818d0">+</text>
<text x="297.4" y="462.6" text-anchor="middle" font-size="7.5" font-weight="bold" fill="#1818d0" stroke="#1818d0">−</text>
<line x1="286.2" x2="301" y1="469.1" y2="469.1" stroke="#1818d0" stroke-width="1.4"/>
<text transform="translate(297.25,475.4) rotate(-90)" text-anchor="end" font-size="8.45" font-weight="bold" fill="#1818d0" stroke="#1818d0">NCI-H441</text>
<text x="288.3" y="357.2" font-size="9.8" textLength="13.6" lengthAdjust="spacingAndGlyphs" fill="#2a2ad8" stroke="#2a2ad8" stroke-width="0.3">n.s.</text>
<line x1="315.89" x2="315.89" y1="384.21" y2="377.61" stroke="#000" stroke-width="1.3"/>
<line x1="314.29" x2="317.49" y1="377.91" y2="377.91" stroke="#000" stroke-width="1.3"/>
<rect x="307.29" y="376.18" width="4.9" height="72.92" fill="#0000d0" stroke="#000" stroke-width="1.3"/>
<rect x="313.54" y="384.81" width="4.7" height="64.29" fill="url(#hb)" stroke="#000" stroke-width="1.35"/>
<line x1="312.69" x2="312.69" y1="449.1" y2="451.3" stroke="#000" stroke-width="1.1"/>
<text x="309.34" y="462.6" text-anchor="middle" font-size="7.5" font-weight="bold" fill="#1818d0" stroke="#1818d0">+</text>
<text x="316.49" y="462.6" text-anchor="middle" font-size="7.5" font-weight="bold" fill="#1818d0" stroke="#1818d0">−</text>
<line x1="305.29" x2="320.09" y1="469.1" y2="469.1" stroke="#1818d0" stroke-width="1.4"/>
<text transform="translate(315.95,475.4) rotate(-90)" text-anchor="end" font-size="8.45" font-weight="bold" fill="#1818d0" stroke="#1818d0">NCI-H838</text>
<text x="307.3" y="369.2" font-size="9.8" textLength="13.6" lengthAdjust="spacingAndGlyphs" fill="#2a2ad8" stroke="#2a2ad8" stroke-width="0.3">n.s.</text>
<line x1="334.98" x2="334.98" y1="390.22" y2="383.91" stroke="#000" stroke-width="1.3"/>
<line x1="333.38" x2="336.58" y1="384.21" y2="384.21" stroke="#000" stroke-width="1.3"/>
<rect x="326.38" y="375.07" width="4.9" height="74.03" fill="#cc0000" stroke="#000" stroke-width="1.3"/>
<rect x="332.63" y="390.82" width="4.7" height="58.28" fill="url(#hr)" stroke="#000" stroke-width="1.35"/>
<line x1="331.78" x2="331.78" y1="449.1" y2="451.3" stroke="#000" stroke-width="1.1"/>
<text x="328.43" y="462.6" text-anchor="middle" font-size="7.5" font-weight="bold" fill="#d01818" stroke="#d01818">+</text>
<text x="335.58" y="462.6" text-anchor="middle" font-size="7.5" font-weight="bold" fill="#d01818" stroke="#d01818">−</text>
<line x1="324.38" x2="339.18" y1="469.1" y2="469.1" stroke="#d01818" stroke-width="1.4"/>
<text transform="translate(335.15,475.4) rotate(-90)" text-anchor="end" font-size="8.45" font-weight="bold" fill="#d01818" stroke="#d01818">NCI-H838-G12D</text>
<text x="325.1" y="369.1" font-size="9.8" textLength="13.6" lengthAdjust="spacingAndGlyphs" fill="#d82020" stroke="#d82020" stroke-width="0.3">n.s.</text>
<line x1="347.92" x2="347.92" y1="375.01" y2="369.6" stroke="#000" stroke-width="1.3"/>
<line x1="346.32" x2="349.52" y1="369.9" y2="369.9" stroke="#000" stroke-width="1.3"/>
<line x1="354.07" x2="354.07" y1="386.21" y2="384.73" stroke="#000" stroke-width="1.3"/>
<line x1="352.47" x2="355.67" y1="385.03" y2="385.03" stroke="#000" stroke-width="1.3"/>
<rect x="345.47" y="375.66" width="4.9" height="73.44" fill="#cc0000" stroke="#000" stroke-width="1.3"/>
<rect x="351.72" y="386.81" width="4.7" height="62.29" fill="url(#hr)" stroke="#000" stroke-width="1.35"/>
<line x1="350.87" x2="350.87" y1="449.1" y2="451.3" stroke="#000" stroke-width="1.1"/>
<text x="347.52" y="462.6" text-anchor="middle" font-size="7.5" font-weight="bold" fill="#d01818" stroke="#d01818">+</text>
<text x="354.67" y="462.6" text-anchor="middle" font-size="7.5" font-weight="bold" fill="#d01818" stroke="#d01818">−</text>
<line x1="343.47" x2="358.27" y1="469.1" y2="469.1" stroke="#d01818" stroke-width="1.4"/>
<text transform="translate(354.05,475.4) rotate(-90)" text-anchor="end" font-size="8.45" font-weight="bold" fill="#d01818" stroke="#d01818">NCI-H838-G12V</text>
<g stroke="#f07070" stroke-width="1.1"><line x1="352.7" x2="355.9" y1="378.9" y2="378.9"/><line x1="353.5" x2="355.1" y1="377.5" y2="380.3"/><line x1="355.1" x2="353.5" y1="377.5" y2="380.3"/></g>
<line x1="367.01" x2="367.01" y1="377.31" y2="369.23" stroke="#000" stroke-width="1.3"/>
<line x1="365.41" x2="368.61" y1="369.53" y2="369.53" stroke="#000" stroke-width="1.3"/>
<line x1="373.16" x2="373.16" y1="388.29" y2="381.84" stroke="#000" stroke-width="1.3"/>
<line x1="371.56" x2="374.76" y1="382.14" y2="382.14" stroke="#000" stroke-width="1.3"/>
<rect x="364.56" y="377.96" width="4.9" height="71.14" fill="#008000" stroke="#000" stroke-width="1.3"/>
<rect x="370.81" y="388.89" width="4.7" height="60.21" fill="url(#hg)" stroke="#000" stroke-width="1.35"/>
<line x1="369.96" x2="369.96" y1="449.1" y2="451.3" stroke="#000" stroke-width="1.1"/>
<text x="366.61" y="462.6" text-anchor="middle" font-size="7.5" font-weight="bold" fill="#108a28" stroke="#108a28">+</text>
<text x="373.76" y="462.6" text-anchor="middle" font-size="7.5" font-weight="bold" fill="#108a28" stroke="#108a28">−</text>
<line x1="362.56" x2="377.36" y1="469.1" y2="469.1" stroke="#108a28" stroke-width="1.4"/>
<text transform="translate(374.25,475.4) rotate(-90)" text-anchor="end" font-size="8.45" font-weight="bold" fill="#108a28" stroke="#108a28">MRC-5</text>
<text x="364" y="362.5" font-size="9.8" textLength="13.6" lengthAdjust="spacingAndGlyphs" fill="#10a030" stroke="#10a030" stroke-width="0.3">n.s.</text>
<line x1="386.1" x2="386.1" y1="375.53" y2="367.23" stroke="#000" stroke-width="1.3"/>
<line x1="384.5" x2="387.7" y1="367.53" y2="367.53" stroke="#000" stroke-width="1.3"/>
<line x1="392.25" x2="392.25" y1="380.87" y2="372.57" stroke="#000" stroke-width="1.3"/>
<line x1="390.65" x2="393.85" y1="372.87" y2="372.87" stroke="#000" stroke-width="1.3"/>
<rect x="383.65" y="376.18" width="4.9" height="72.92" fill="#008000" stroke="#000" stroke-width="1.3"/>
<rect x="389.9" y="381.47" width="4.7" height="67.63" fill="url(#hg)" stroke="#000" stroke-width="1.35"/>
<line x1="389.05" x2="389.05" y1="449.1" y2="451.3" stroke="#000" stroke-width="1.1"/>
<text x="385.7" y="462.6" text-anchor="middle" font-size="7.5" font-weight="bold" fill="#108a28" stroke="#108a28">+</text>
<text x="392.85" y="462.6" text-anchor="middle" font-size="7.5" font-weight="bold" fill="#108a28" stroke="#108a28">−</text>
<line x1="381.65" x2="396.45" y1="469.1" y2="469.1" stroke="#108a28" stroke-width="1.4"/>
<text transform="translate(394.15,475.4) rotate(-90)" text-anchor="end" font-size="8.45" font-weight="bold" fill="#108a28" stroke="#108a28">CTX TNA2</text>
<text x="383.3" y="362.5" font-size="9.8" textLength="13.6" lengthAdjust="spacingAndGlyphs" fill="#10a030" stroke="#10a030" stroke-width="0.3">n.s.</text>
<line x1="189" x2="189" y1="356.4" y2="449.7" stroke="#000" stroke-width="1.6"/>
<line x1="186.3" x2="398" y1="449.1" y2="449.1" stroke="#000" stroke-width="1.3"/>
<line x1="186.1" x2="188.9" y1="449.1" y2="449.1" stroke="#000" stroke-width="1.1"/>
<text x="184.6" y="452.1" text-anchor="end" font-size="8.4" font-weight="bold" textLength="3.97" lengthAdjust="spacingAndGlyphs">0</text>
<line x1="186.1" x2="188.9" y1="430.56" y2="430.56" stroke="#000" stroke-width="1.1"/>
<text x="184.6" y="433.56" text-anchor="end" font-size="8.4" font-weight="bold" textLength="7.94" lengthAdjust="spacingAndGlyphs">25</text>
<line x1="186.1" x2="188.9" y1="412.02" y2="412.02" stroke="#000" stroke-width="1.1"/>
<text x="184.6" y="415.02" text-anchor="end" font-size="8.4" font-weight="bold" textLength="7.94" lengthAdjust="spacingAndGlyphs">50</text>
<line x1="186.1" x2="188.9" y1="393.48" y2="393.48" stroke="#000" stroke-width="1.1"/>
<text x="184.6" y="396.48" text-anchor="end" font-size="8.4" font-weight="bold" textLength="7.94" lengthAdjust="spacingAndGlyphs">75</text>
<line x1="186.1" x2="188.9" y1="374.94" y2="374.94" stroke="#000" stroke-width="1.1"/>
<text x="184.6" y="377.94" text-anchor="end" font-size="8.4" font-weight="bold" textLength="11.91" lengthAdjust="spacingAndGlyphs">100</text>
<line x1="186.1" x2="188.9" y1="356.4" y2="356.4" stroke="#000" stroke-width="1.1"/>
<text x="184.6" y="359.4" text-anchor="end" font-size="8.4" font-weight="bold" textLength="11.91" lengthAdjust="spacingAndGlyphs">125</text>
<text x="155.6" y="463.4" font-size="8" font-weight="bold">Lysine</text>
</svg>
</body></html>
